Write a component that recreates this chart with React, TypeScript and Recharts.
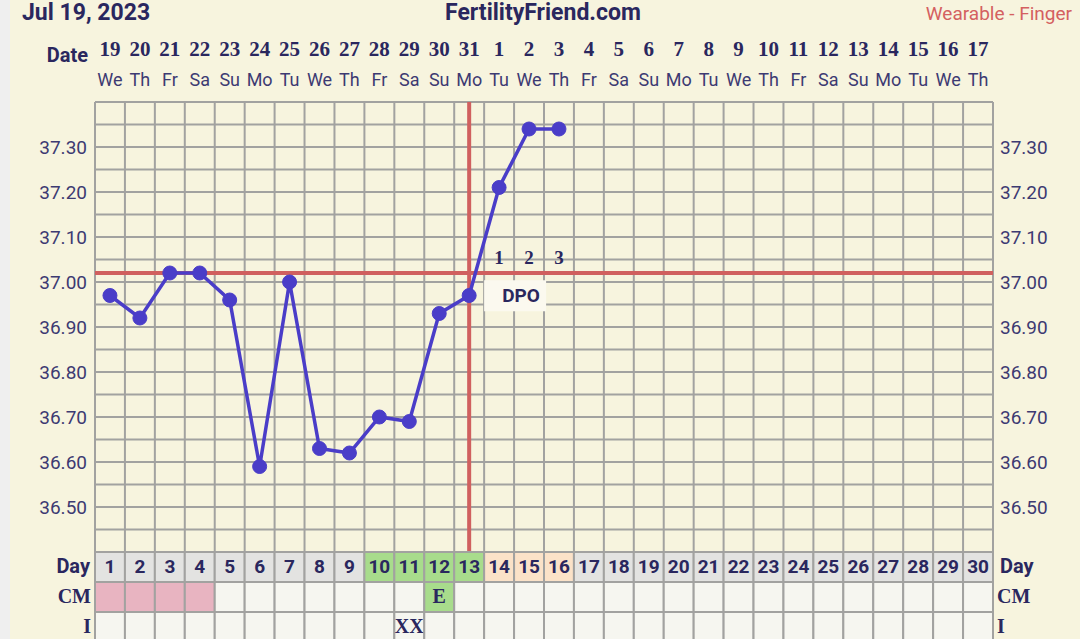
import {
  ComposedChart,
  Line,
  Scatter,
  XAxis,
  YAxis,
  CartesianGrid,
  ReferenceLine,
  ReferenceArea,
} from "recharts";

// chart values
const cycleDays = [
  1, 2, 3, 4, 5, 6, 7, 8, 9, 10, 11, 12, 13, 14, 15, 16, 17, 18, 19, 20, 21,
  22, 23, 24, 25, 26, 27, 28, 29, 30,
];
const dateLabels = [
  "19", "20", "21", "22", "23", "24", "25", "26", "27", "28", "29", "30", "31",
  "1", "2", "3", "4", "5", "6", "7", "8", "9", "10", "11", "12", "13", "14",
  "15", "16", "17",
];
const weekdays = [
  "We", "Th", "Fr", "Sa", "Su", "Mo", "Tu", "We", "Th", "Fr", "Sa", "Su", "Mo",
  "Tu", "We", "Th", "Fr", "Sa", "Su", "Mo", "Tu", "We", "Th", "Fr", "Sa", "Su",
  "Mo", "Tu", "We", "Th",
];
const temps = [
  36.97, 36.92, 37.02, 37.02, 36.96, 36.59, 37.0, 36.63, 36.62, 36.7, 36.69,
  36.93, 36.97, 37.21, 37.34, 37.34,
];
const tempTicks = [36.5, 36.6, 36.7, 36.8, 36.9, 37.0, 37.1, 37.2, 37.3];
const coverline = 37.02;
const ovulationDay = 13;
const dpoDays = [14, 15, 16];
const dpoLabels = ["1", "2", "3"];
const fertileDays = [10, 11, 12, 13];
const cmSpotting = [1, 2, 3, 4];
const cmEggWhite = [12];
const intercourseDays = [11];

const W = 1080;
const H = 639;
const LEFT = 95;
const RIGHT = 87;
const TOP = 102;
const BOTTOM = 87;
const CELL = (W - LEFT - RIGHT) / 30;
const ROW = 30;

const CREAM = "#f7f4de";
const NAVY = "#2a275e";
const AXIS_TEXT = "#3d3a72";
const GRID = "#a2a2a0";
const BLUE = "#4a3dc8";
const RED = "#d0605f";
const SLAB = "'Liberation Serif', serif";
const SANS = "Roboto, sans-serif";

const tempData = temps.map((t, i) => ({ day: cycleDays[i], temp: t }));
const dpoData = dpoDays.map((d, i) => ({ day: d, dpo: 37.055, label: dpoLabels[i] }));

const gridDays = Array.from({ length: 31 }, (_, i) => i + 0.5);
const gridTemps = Array.from({ length: 21 }, (_, i) => +(36.4 + i * 0.05).toFixed(2));

function DateTick({ x, y, payload }: any) {
  const i = payload.value - 1;
  return (
    <g>
      <text x={x} y={y - 46} textAnchor="middle" fontFamily={SLAB} fontWeight="bold" fontSize={21} fill={NAVY}>
        {dateLabels[i]}
      </text>
      <text x={x} y={y - 16} textAnchor="middle" fontFamily={SANS} fontSize={18} fill={AXIS_TEXT}>
        {weekdays[i]}
      </text>
      {payload.value === 1 && (
        <text x={x - CELL / 2 - 7} y={y - 40} textAnchor="end" fontFamily={SANS} fontWeight="bold" fontSize={20} fill={NAVY}>
          Date
        </text>
      )}
    </g>
  );
}

function TableTick({ x, y, payload }: any) {
  const d = payload.value;
  const left = x - CELL / 2;
  const dayFill = fertileDays.includes(d)
    ? "#a8dc8c"
    : dpoDays.includes(d)
    ? "#fbe2c8"
    : "#e3e3e1";
  const cmFill = cmSpotting.includes(d)
    ? "#e8b4c1"
    : cmEggWhite.includes(d)
    ? "#a8dc8c"
    : "#f6f6f0";
  return (
    <g>
      <rect x={left} y={y} width={CELL} height={ROW} fill={dayFill} stroke={GRID} strokeWidth={2} />
      <rect x={left} y={y + ROW} width={CELL} height={ROW} fill={cmFill} stroke={GRID} strokeWidth={2} />
      <rect x={left} y={y + 2 * ROW} width={CELL} height={ROW + 10} fill="#f6f6f0" stroke={GRID} strokeWidth={2} />
      <text x={x} y={y + 21} textAnchor="middle" fontFamily={SANS} fontWeight="bold" fontSize={19} fill={NAVY}>
        {d}
      </text>
      {cmEggWhite.includes(d) && (
        <text x={x} y={y + 51} textAnchor="middle" fontFamily={SLAB} fontWeight="bold" fontSize={20} fill={NAVY}>
          E
        </text>
      )}
      {intercourseDays.includes(d) && (
        <text x={x} y={y + 81} textAnchor="middle" fontFamily={SLAB} fontWeight="bold" fontSize={20} fill={NAVY}>
          XX
        </text>
      )}
      {d === 1 && (
        <g textAnchor="end" fill={NAVY} fontWeight="bold">
          <text x={left - 5} y={y + 21} fontFamily={SANS} fontSize={20}>Day</text>
          <text x={left - 4} y={y + 51} fontFamily={SLAB} fontSize={20}>CM</text>
          <text x={left - 4} y={y + 81} fontFamily={SLAB} fontSize={20}>I</text>
        </g>
      )}
      {d === 30 && (
        <g textAnchor="start" fill={NAVY} fontWeight="bold">
          <text x={left + CELL + 7} y={y + 21} fontFamily={SANS} fontSize={20}>Day</text>
          <text x={left + CELL + 4} y={y + 51} fontFamily={SLAB} fontSize={20}>CM</text>
          <text x={left + CELL + 4} y={y + 81} fontFamily={SLAB} fontSize={20}>I</text>
        </g>
      )}
    </g>
  );
}

function DpoNumber(props: any) {
  return (
    <text x={props.cx} y={props.cy + 7} textAnchor="middle" fontFamily={SLAB} fontWeight="bold" fontSize={19} fill={NAVY}>
      {props.payload.label}
    </text>
  );
}

export default function App() {
  return (
    <div style={{ position: "fixed", left: 0, top: 0, width: W, height: H, background: CREAM, overflow: "hidden" }}>
      <div style={{ position: "absolute", left: 0, top: 0, width: 10, height: H, background: "#efefef" }} />
      <ComposedChart width={W} height={H} data={tempData} margin={{ top: 0, right: 0, bottom: 0, left: 0 }}>
        <CartesianGrid
          xAxisId="bottom"
          yAxisId="left"
          verticalValues={gridDays}
          horizontalValues={gridTemps}
          stroke={GRID}
          strokeWidth={2}
        />
        <XAxis
          xAxisId="top"
          orientation="top"
          dataKey="day"
          type="number"
          domain={[0.5, 30.5]}
          ticks={cycleDays}
          interval={0}
          height={TOP}
          tickSize={0}
          tickMargin={0}
          axisLine={false}
          tick={DateTick}
        />
        <XAxis
          xAxisId="bottom"
          orientation="bottom"
          dataKey="day"
          type="number"
          domain={[0.5, 30.5]}
          ticks={cycleDays}
          interval={0}
          height={BOTTOM}
          tickSize={0}
          tickMargin={0}
          axisLine={false}
          tick={TableTick}
        />
        <YAxis
          yAxisId="left"
          orientation="left"
          width={LEFT}
          domain={[36.4, 37.4]}
          ticks={tempTicks}
          interval={0}
          allowDataOverflow
          axisLine={false}
          tickLine={false}
          tickSize={0}
          tickMargin={8}
          tickFormatter={(v: number) => v.toFixed(2)}
          tick={{ fill: AXIS_TEXT, fontSize: 19, fontFamily: SANS }}
        />
        <YAxis
          yAxisId="right"
          orientation="right"
          width={RIGHT}
          domain={[36.4, 37.4]}
          ticks={tempTicks}
          interval={0}
          allowDataOverflow
          axisLine={false}
          tickLine={false}
          tickSize={0}
          tickMargin={7}
          tickFormatter={(v: number) => v.toFixed(2)}
          tick={{ fill: AXIS_TEXT, fontSize: 19, fontFamily: SANS }}
        />
        <ReferenceArea
          xAxisId="bottom"
          yAxisId="left"
          x1={13.5}
          x2={15.57}
          y1={36.935}
          y2={37.004}
          fill="#fbf9ef"
          fillOpacity={1}
          stroke="none"
          label={{ value: "DPO", position: "center", dx: 6, fill: NAVY, fontSize: 19, fontWeight: "bold", fontFamily: SANS }}
        />
        <ReferenceLine xAxisId="bottom" yAxisId="left" y={coverline} stroke={RED} strokeWidth={4} />
        <ReferenceLine xAxisId="bottom" yAxisId="left" x={ovulationDay} stroke={RED} strokeWidth={4} />
        <Scatter
          xAxisId="bottom"
          yAxisId="left"
          data={dpoData}
          dataKey="dpo"
          shape={DpoNumber}
          isAnimationActive={false}
        />
        <Line
          xAxisId="bottom"
          yAxisId="left"
          dataKey="temp"
          stroke={BLUE}
          strokeWidth={3.5}
          dot={{ r: 7, fill: BLUE, stroke: BLUE, strokeWidth: 1 }}
          activeDot={false}
          isAnimationActive={false}
        />
      </ComposedChart>
      <svg width={W} height={40} style={{ position: "absolute", left: 0, top: 0, pointerEvents: "none" }}>
        <text x={22} y={20} fontFamily={SANS} fontWeight="bold" fontSize={23} fill={NAVY}>
          Jul 19, 2023
        </text>
        <text x={543} y={20} textAnchor="middle" fontFamily={SANS} fontWeight="bold" fontSize={23} fill={NAVY}>
          FertilityFriend.com
        </text>
        <text x={1072} y={20} textAnchor="end" fontFamily={SANS} fontSize={19} fill="#d46060">
          Wearable - Finger
        </text>
      </svg>
    </div>
  );
}
